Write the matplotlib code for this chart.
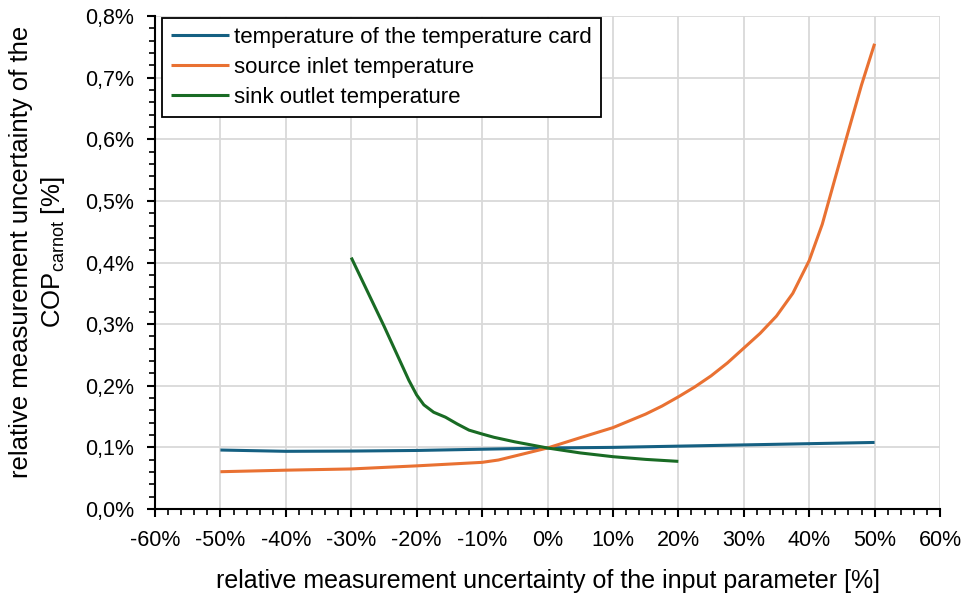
import matplotlib
matplotlib.use("Agg")
import matplotlib.pyplot as plt
from matplotlib.ticker import MultipleLocator, FuncFormatter

plt.rcParams['font.family'] = ['Liberation Sans', 'DejaVu Sans']
plt.rcParams['mathtext.fontset'] = 'custom'
plt.rcParams['mathtext.rm'] = 'Liberation Sans'
plt.rcParams['mathtext.it'] = 'Liberation Sans:italic'

# x values in %, y values in %
x_card = [-50, -40, -30, -20, -10, 0, 10, 20, 30, 40, 50]
y_card = [0.0957, 0.0936, 0.094, 0.095, 0.097, 0.099, 0.100, 0.102, 0.104, 0.106, 0.108]

x_source = [-50, -40, -30, -20, -10, -7.5, -5, 0, 5, 10, 15, 17.5, 20, 22.5, 25, 27.5, 30, 32.5, 35,
            37.5, 40, 42, 44, 46, 48, 50]
y_source = [0.0605, 0.063, 0.065, 0.070, 0.0757, 0.0795, 0.086, 0.099, 0.1157, 0.132, 0.154, 0.167,
            0.182, 0.198, 0.216, 0.237, 0.261, 0.285, 0.313, 0.350, 0.403, 0.462, 0.538,
            0.6135, 0.688, 0.755]

x_sink = [-30, -25, -21.2, -20, -18.9, -17.4, -15.6, -13.8, -12, -10, -8.2, -5, 0, 5, 10, 15, 20]
y_sink = [0.408, 0.297, 0.209, 0.185, 0.169, 0.157, 0.149, 0.138, 0.128, 0.1217, 0.1164, 0.109,
          0.099, 0.091, 0.0849, 0.0805, 0.0773]

labels = ["temperature of the temperature card", "source inlet temperature", "sink outlet temperature"]
colors = ["#156082", "#E97132", "#196B24"]

fig = plt.figure(figsize=(9.65, 5.96), dpi=100)
ax = fig.add_axes([155/965, 1-509/596, (940-155)/965, (509-16)/596])

for xs, ys, lab, c in zip([x_card, x_source, x_sink], [y_card, y_source, y_sink], labels, colors):
    ax.plot(xs, ys, color=c, lw=2.2, label=lab, solid_capstyle='butt', solid_joinstyle='round')

ax.set_xlim(-60, 60)
ax.set_ylim(0, 0.8)
ax.xaxis.set_major_locator(MultipleLocator(10))
ax.xaxis.set_minor_locator(MultipleLocator(2))
ax.yaxis.set_major_locator(MultipleLocator(0.1))
ax.yaxis.set_minor_locator(MultipleLocator(0.02))
ax.xaxis.set_major_formatter(FuncFormatter(lambda v, p: f"{v:.0f}%"))
ax.yaxis.set_major_formatter(FuncFormatter(lambda v, p: f"{v:.1f}%".replace(".", ",")))

ax.grid(True, which='major', color='#d9d9d9', lw=1.3)
ax.set_axisbelow(True)
for s in ['top', 'right']:
    ax.spines[s].set_visible(False)
for s in ['left', 'bottom']:
    ax.spines[s].set_color('black')
    ax.spines[s].set_linewidth(1.5)
ax.tick_params(which='major', direction='out', length=6, width=1.5, labelsize=15.5, colors='black', pad=9)
ax.tick_params(which='minor', direction='out', length=4, width=1.2, colors='black')

fig.text(548/965, 1-581/596, "relative measurement uncertainty of the input parameter [%]",
         fontsize=18, ha='center', va='center')
fig.text(38/965, 1-252/596, "relative measurement uncertainty of the\nCOP$_{\\mathrm{carnot}}$ [%]",
         fontsize=18.5, ha='center', va='center', rotation=90, multialignment='center', linespacing=1.25)

leg = ax.legend(loc='upper left', bbox_to_anchor=(0.006, 1.0), fontsize=16, frameon=True, fancybox=False,
                edgecolor='black', handlelength=2.6, handletextpad=0.25, borderpad=0.4, labelspacing=0.4,
                borderaxespad=0.1, framealpha=1)
leg.get_frame().set_linewidth(1.3)

fig.savefig("out.png", dpi=100)
